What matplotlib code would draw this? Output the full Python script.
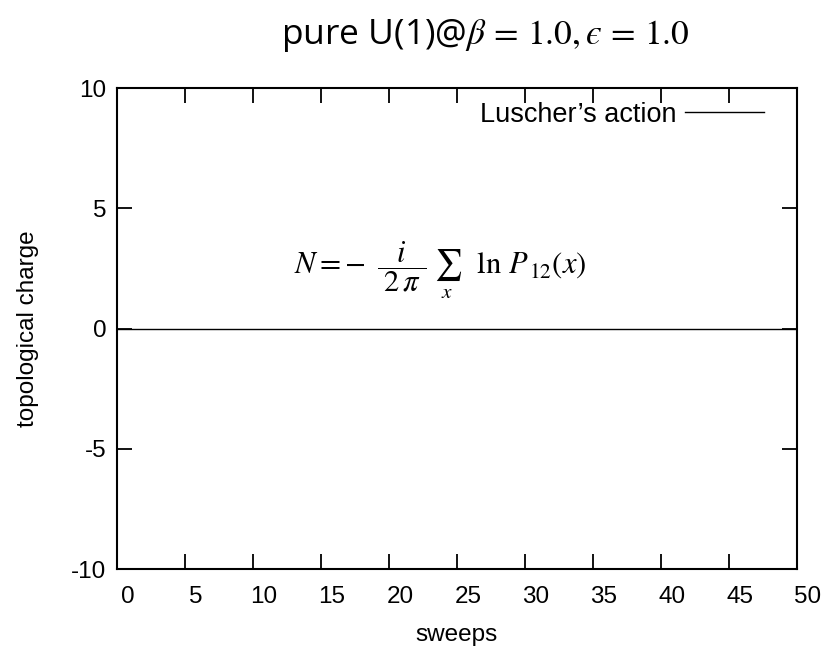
import matplotlib
matplotlib.use("Agg")
import matplotlib.pyplot as plt
import matplotlib.transforms as mtransforms

# data: topological charge stays at zero for every sweep
sweeps = [0, 5, 10, 15, 20, 25, 30, 35, 40, 45, 50]
charge = [0, 0, 0, 0, 0, 0, 0, 0, 0, 0, 0]
xticks = [0, 5, 10, 15, 20, 25, 30, 35, 40, 45, 50]
yticks = [-10, -5, 0, 5, 10]

plt.rcParams['font.family'] = ['Liberation Sans', 'DejaVu Sans']
plt.rcParams['mathtext.fontset'] = 'stix'

fig = plt.figure(figsize=(8.29, 6.5), dpi=100)
ax = fig.add_axes([0.1411, 0.1246, 0.8203, 0.74])

ax.plot(sweeps, charge, color='black', lw=1.0, label="Luscher’s action")

ax.set_xlim(0, 50)
ax.set_ylim(-10, 10)
ax.set_xticks(xticks)
ax.set_yticks(yticks)
ax.set_yticklabels([str(v) for v in yticks])
ax.tick_params(direction='in', length=11, width=1.3, top=True, right=True,
               labelsize=17.5)
ax.tick_params(axis='x', pad=12)
ax.tick_params(axis='y', pad=7.5)
for s in ax.spines.values():
    s.set_linewidth(1.5)

# gnuplot-style labels sit a little to the right of their ticks
offset = mtransforms.ScaledTranslation(11 / 100, 0, fig.dpi_scale_trans)
for lab in ax.get_xticklabels():
    lab.set_transform(lab.get_transform() + offset)

ax.set_xlabel('sweeps', fontsize=17.5, labelpad=12)
ax.set_ylabel('topological charge', fontsize=17.5, labelpad=23)

leg = ax.legend(loc='center right', bbox_to_anchor=(0.9515, 0.944), frameon=False,
                fontsize=19.5, markerfirst=False, handlelength=2.93,
                handletextpad=0.3, borderpad=0, borderaxespad=0)

ax.text(23.75, 2.43,
        r'$N = -\;\;\dfrac{\;\,i\;\,}{\;2\,\pi\;}\;\sum_{x}\;\;\;\ln\,P_{\,12}(x)$',
        fontsize=22, ha='center', va='center')

fig.text(0.585, 0.946, 'pure U(1)@$\\beta\\,=\\,1.0,\u03f5\\,=\\,1.0$',
         fontsize=25.5, ha='center', va='center', family=['Open Sans', 'DejaVu Sans'])

fig.savefig('out.png', dpi=100)
